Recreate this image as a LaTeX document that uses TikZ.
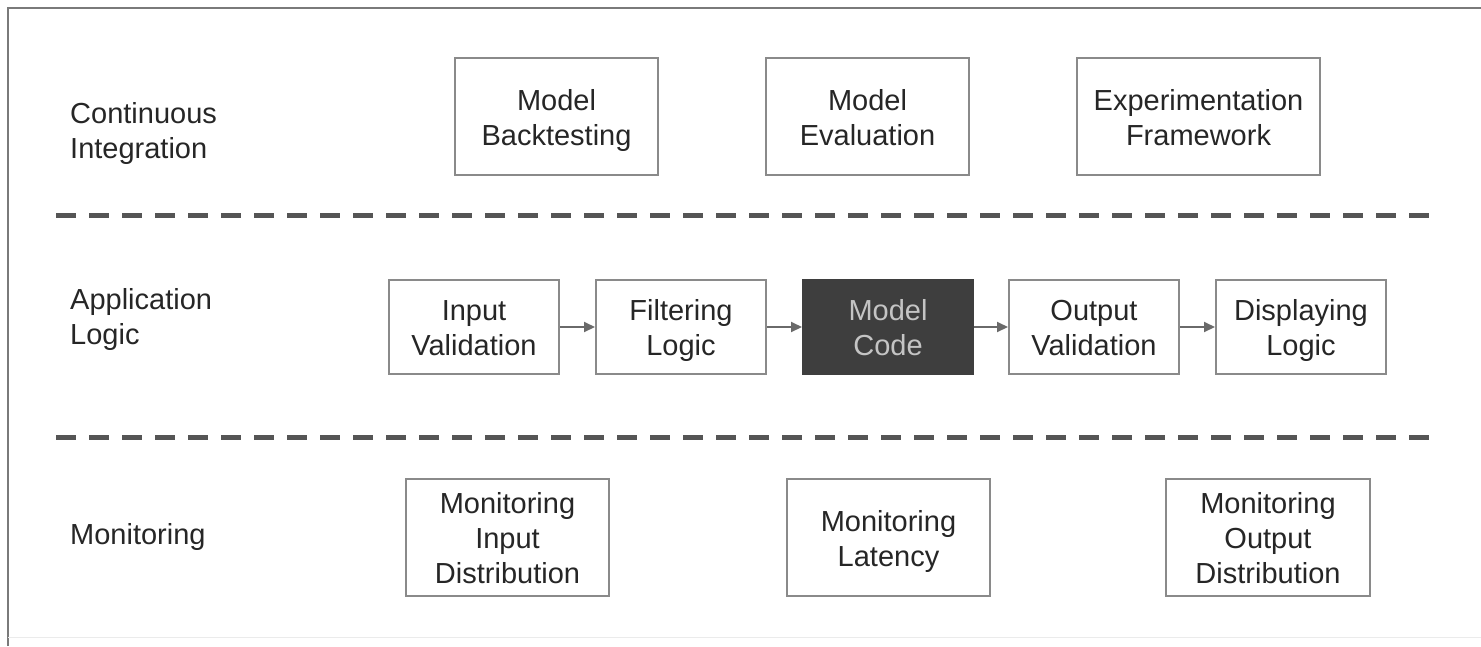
\documentclass[tikz,border=0pt]{standalone}
\usepackage{fontspec}
\setmainfont{Liberation Sans}
\usetikzlibrary{arrows.meta}
\definecolor{boxline}{HTML}{8A8A8A}
\definecolor{txt}{HTML}{262626}
\definecolor{dashcol}{HTML}{555555}
\definecolor{darkfill}{HTML}{3E3E3E}
\definecolor{lighttxt}{HTML}{C4C4C4}
\definecolor{framecol}{HTML}{7A7A7A}
\definecolor{arrowcol}{HTML}{6A6A6A}
% uniform line box so every line sits at the same place regardless of letters
\newcommand{\ls}{\vrule height 28.5pt depth 6.5pt width 0pt}
\newcommand{\lines}[1]{\ls#1}
\tikzset{
  lbl/.style={anchor=west, align=left, text=txt, font=\fontsize{29}{35}\selectfont, inner sep=0pt},
  stepbox/.style={draw=boxline, line width=2pt, fill=white, text=txt, align=center,
    font=\fontsize{29}{35}\selectfont, inner sep=0pt},
  wide/.style={stepbox, minimum width=203pt, minimum height=117pt},
  flow/.style={stepbox, minimum width=170pt, minimum height=94pt},
  sep/.style={draw=dashcol, line width=5pt, dash pattern=on 20pt off 13pt},
  conn/.style={draw=arrowcol, line width=2pt, -{Triangle[length=11pt,width=10pt]}},
}
\begin{document}
\begin{tikzpicture}[x=1pt,y=-1pt]
  \useasboundingbox (0,0) rectangle (1481,646);
  % outer frame
  \draw[framecol, line width=2pt] (8,646) -- (8,8) -- (1481,8);
  \draw[black!8, line width=1pt] (8,637) -- (1481,637);

  % layer names
  \node[lbl] (ci)  at (70,130) {\ls Continuous\\\ls Integration};
  \node[lbl] (app) at (70,316) {\ls Application\\\ls Logic};
  \node[lbl] (mon) at (70,533.5) {\ls Monitoring};

  % separators
  \coordinate (s1a) at (56,215);  \coordinate (s1b) at (1430,215);
  \coordinate (s2a) at (56,437);  \coordinate (s2b) at (1430,437);
  \draw[sep] (s1a) -- (s1b);
  \draw[sep] (s2a) -- (s2b);

  % continuous integration
  \node[wide] (mb) at (556.5,116.5) {\ls Model\\\ls Backtesting};
  \node[wide] (me) at (867.5,116.5) {\ls Model\\\ls Evaluation};
  \node[wide, minimum width=243pt] (ef) at (1198.5,116.5) {\ls Experimentation\\\ls Framework};

  % application logic pipeline
  \node[flow] (iv) at (474,327) {\ls Input\\\ls Validation};
  \node[flow] (fl) at (681,327) {\ls Filtering\\\ls Logic};
  \node[flow, fill=darkfill, draw=darkfill, text=lighttxt] (mc) at (888,327) {\ls Model\\\ls Code};
  \node[flow] (ov) at (1094,327) {\ls Output\\\ls Validation};
  \node[flow] (dl) at (1301,327) {\ls Displaying\\\ls Logic};
  \draw[conn] (iv) -- (fl);
  \draw[conn] (fl) -- (mc);
  \draw[conn] (mc) -- (ov);
  \draw[conn] (ov) -- (dl);

  % monitoring
  \node[wide] (mid) at (507.5,537.5) {\ls Monitoring\\\ls Input\\\ls Distribution};
  \node[wide] (ml)  at (888.5,537.5) {\ls Monitoring\\\ls Latency};
  \node[wide, minimum width=204pt] (mod) at (1268,537.5) {\ls Monitoring\\\ls Output\\\ls Distribution};
\end{tikzpicture}
\end{document}
